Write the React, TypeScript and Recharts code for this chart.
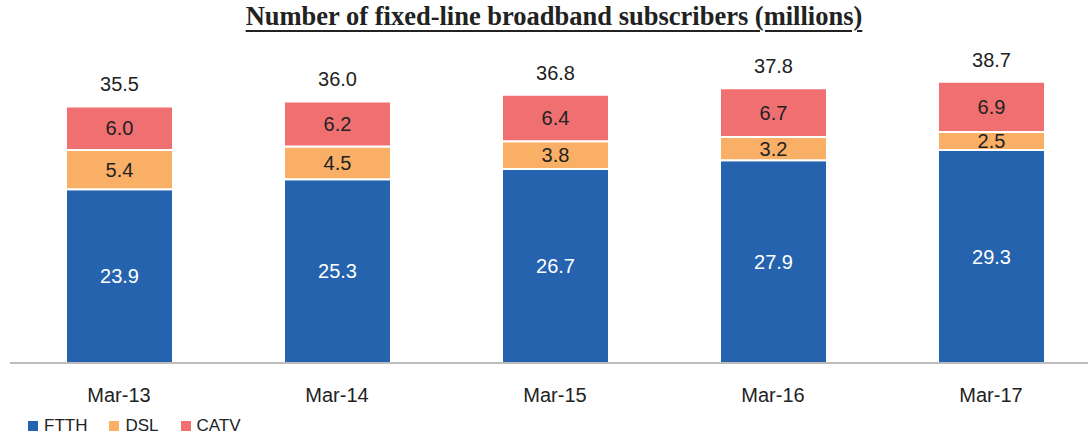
import React from 'react';
import { BarChart, Bar, XAxis, YAxis, LabelList, Legend } from 'recharts';

const categories = ['Mar-13', 'Mar-14', 'Mar-15', 'Mar-16', 'Mar-17'];
const ftth = [23.9, 25.3, 26.7, 27.9, 29.3];
const dsl = [5.4, 4.5, 3.8, 3.2, 2.5];
const catv = [6.0, 6.2, 6.4, 6.7, 6.9];
const totals = [35.5, 36.0, 36.8, 37.8, 38.7];

const COLORS = { ftth: '#2563ae', dsl: '#f9b066', catv: '#f07072' };
const FONT = '"Liberation Sans", Arial, sans-serif';

const data = categories.map((c, i) => ({
  name: c,
  FTTH: ftth[i],
  DSL: dsl[i],
  CATV: catv[i],
  total: totals[i],
}));

const fmt = (v: any) => Number(v).toFixed(1);

const legendItems = [
  { label: 'FTTH', color: COLORS.ftth },
  { label: 'DSL', color: COLORS.dsl },
  { label: 'CATV', color: COLORS.catv },
];

const LegendContent = () => (
  <div style={{ display: 'flex', fontFamily: FONT, fontSize: 17, color: '#222', paddingLeft: 18 }}>
    {legendItems.map((it) => (
      <div key={it.label} style={{ display: 'flex', alignItems: 'center', marginRight: 22 }}>
        <span style={{ width: 10, height: 10, background: it.color, display: 'inline-block', marginRight: 6 }} />
        <span>{it.label}</span>
      </div>
    ))}
  </div>
);

export default function App() {
  return (
    <div style={{ position: 'fixed', left: 0, top: 0, width: 1088, height: 441, overflow: 'hidden', background: '#fff' }}>
      <div
        style={{
          position: 'absolute',
          left: 0,
          width: 1108,
          top: 1,
          textAlign: 'center',
          fontFamily: '"Liberation Serif", "Times New Roman", serif',
          fontWeight: 'bold',
          fontSize: 26.5,
          color: '#222',
          textDecoration: 'underline',
          textUnderlineOffset: 5,
        }}
      >
        Number of fixed-line broadband subscribers (millions)
      </div>
      <div style={{ position: 'absolute', left: 0, top: 0 }}>
        <BarChart
          width={1110}
          height={441}
          data={data}
          margin={{ top: 36, right: 10, bottom: 0, left: 10 }}
          barSize={107}
        >
          <XAxis
            dataKey="name"
            axisLine={{ stroke: '#a6a6a6', strokeWidth: 1.5 }}
            tickLine={false}
            tick={{ fill: '#222', fontSize: 20, fontFamily: FONT, dy: 3 }}
            tickMargin={16}
            height={58}
          />
          <YAxis hide domain={[0, 45]} />
          <Legend verticalAlign="bottom" align="left" content={<LegendContent />} wrapperStyle={{ bottom: 5 }} />
          <Bar dataKey="FTTH" stackId="a" fill={COLORS.ftth} stroke="#fff" strokeWidth={2} isAnimationActive={false}>
            <LabelList dataKey="FTTH" position="center" formatter={fmt} fill="#fff" fontSize={20} fontFamily={FONT} />
          </Bar>
          <Bar dataKey="DSL" stackId="a" fill={COLORS.dsl} stroke="#fff" strokeWidth={2} isAnimationActive={false}>
            <LabelList dataKey="DSL" position="center" formatter={fmt} fill="#222" fontSize={20} fontFamily={FONT} />
          </Bar>
          <Bar dataKey="CATV" stackId="a" fill={COLORS.catv} stroke="#fff" strokeWidth={2} isAnimationActive={false}>
            <LabelList dataKey="CATV" position="center" formatter={fmt} fill="#222" fontSize={20} fontFamily={FONT} />
            <LabelList dataKey="total" position="top" offset={15} formatter={fmt} fill="#222" fontSize={20} fontFamily={FONT} />
          </Bar>
        </BarChart>
      </div>
    </div>
  );
}
